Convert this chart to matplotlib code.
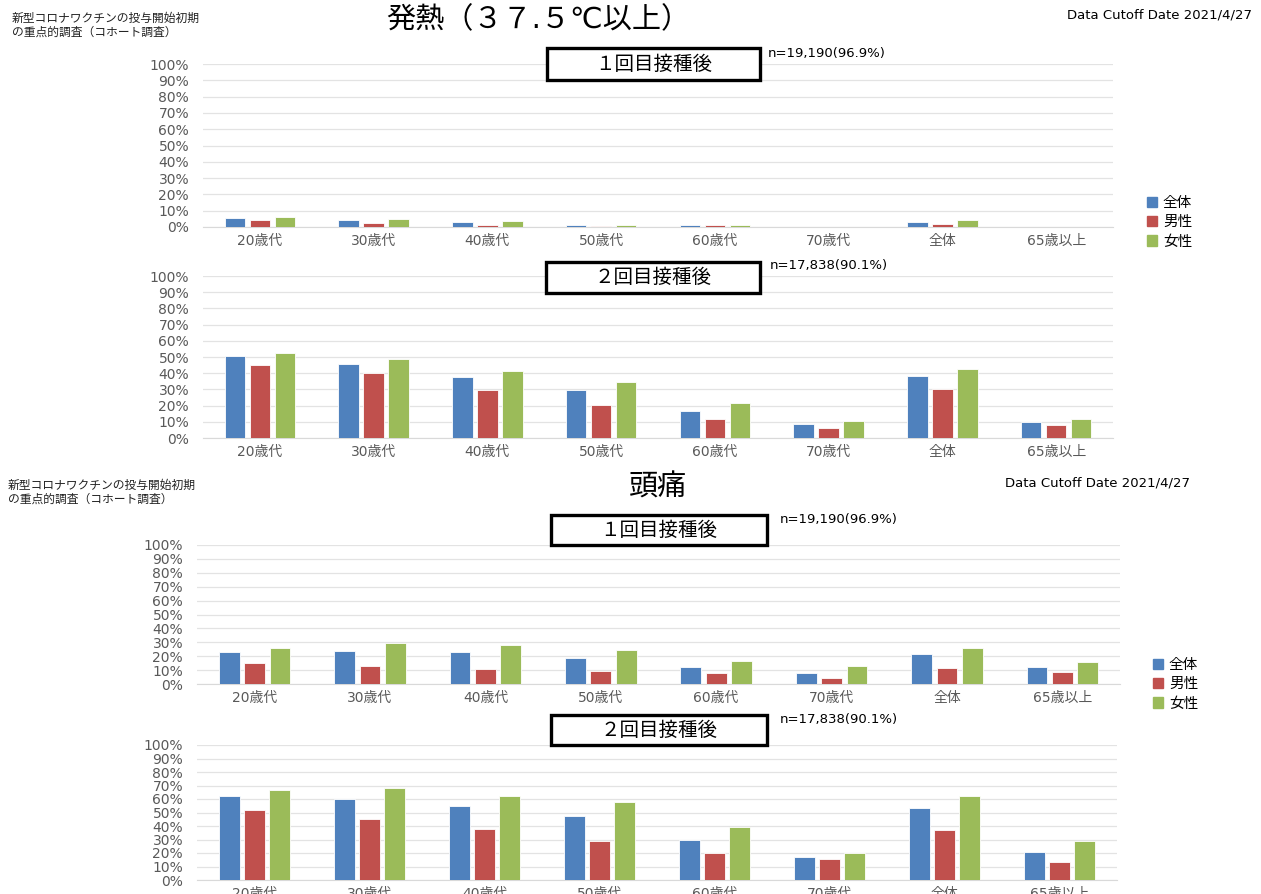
import numpy as np
import matplotlib.pyplot as plt
from matplotlib.patches import Patch, Rectangle

plt.rcParams['font.family'] = ['DejaVu Sans', 'Noto Sans CJK JP']

# categories and series
categories = ['20歳代', '30歳代', '40歳代', '50歳代', '60歳代', '70歳代', '全体', '65歳以上']
series_names = ['全体', '男性', '女性']
colors = ['#4F81BD', '#C0504D', '#9BBB59']

# 発熱 1回目 (%)
fever1_all = [5.5, 4.0, 3.0, 1.2, 1.0, 0.0, 3.3, 0.3]
fever1_male = [4.0, 2.5, 1.5, 0.8, 1.0, 0.0, 2.0, 0.3]
fever1_female = [6.0, 5.0, 3.5, 1.5, 1.0, 0.0, 4.0, 0.2]

# 発熱 2回目 (%)
fever2_all = [50.7, 45.4, 37.8, 29.4, 16.8, 8.4, 38.4, 9.7]
fever2_male = [45.2, 40.2, 29.4, 20.3, 11.9, 6.4, 30.2, 7.8]
fever2_female = [52.6, 48.5, 41.5, 34.5, 21.8, 10.7, 42.9, 11.7]

# 頭痛 1回目 (%)
head1_all = [23.2, 23.5, 23.0, 18.9, 12.3, 8.0, 21.3, 11.9]
head1_male = [14.8, 13.3, 11.1, 9.7, 8.2, 4.4, 11.6, 8.7]
head1_female = [26.2, 29.3, 28.1, 24.2, 16.5, 13.3, 26.2, 15.7]

# 頭痛 2回目 (%)
head2_all = [62.4, 59.7, 54.9, 47.3, 29.6, 17.0, 53.4, 20.4]
head2_male = [51.5, 45.1, 37.9, 28.9, 20.1, 15.3, 37.4, 13.6]
head2_female = [66.3, 68.2, 62.1, 57.8, 39.6, 19.7, 61.9, 28.6]

survey_text = '新型コロナワクチンの投与開始初期\nの重点的調査（コホート調査）'
cutoff_text = 'Data Cutoff Date 2021/4/27'
n_dose1 = 'n=19,190(96.9%)'
n_dose2 = 'n=17,838(90.1%)'

W, H = 1261, 894
fig = plt.figure(figsize=(W / 100, H / 100), dpi=100)
fig.patch.set_facecolor('white')


def px(x, y):
    return x / W, 1 - y / H


def draw_panel(rect, data):
    l, t, r, b = rect
    ax = fig.add_axes([l / W, 1 - b / H, (r - l) / W, (b - t) / H])
    x = np.arange(len(categories))
    for i, (vals, c) in enumerate(zip(data, colors)):
        ax.bar(x + (i - 1) * 0.22, vals, width=0.18, color=c,
               edgecolor='white', linewidth=0.6, zorder=3)
    ax.set_ylim(0, 100)
    ax.set_xlim(-0.5, len(categories) - 0.5)
    ax.set_yticks(range(0, 101, 10))
    ax.set_yticklabels([f'{v}%' for v in range(0, 101, 10)])
    ax.set_xticks(x)
    ax.set_xticklabels(categories)
    ax.tick_params(length=0, colors='#595959', labelsize=10)
    ax.tick_params(axis='y', pad=10)
    ax.tick_params(axis='x', pad=5)
    ax.grid(axis='y', color='#e3e3e3', linewidth=0.9, zorder=0)
    for s in ['left', 'right', 'top']:
        ax.spines[s].set_visible(False)
    ax.spines['bottom'].set_color('#d9d9d9')
    return ax


def box_label(x0, y0, x1, y1, text):
    fig.patches.append(Rectangle(px(x0, y1), (x1 - x0) / W, (y1 - y0) / H,
                                 transform=fig.transFigure, fc='white',
                                 ec='black', lw=2.4, zorder=5))
    fig.text(*px((x0 + x1) / 2, (y0 + y1) / 2), text, fontsize=14,
             ha='center', va='center', zorder=6)


def legend_at(x, y):
    handles = [Patch(color=c, label=n) for c, n in zip(colors, series_names)]
    fig.legend(handles=handles, loc='upper left', bbox_to_anchor=px(x, y),
               frameon=False, fontsize=10.5, handlelength=0.7, handleheight=0.7,
               handletextpad=0.4, labelspacing=0.3, borderaxespad=0)


# ---- 発熱 ----
fig.text(*px(12, 25), survey_text, fontsize=8.5, ha='left', va='center',
         linespacing=1.05, color='#222222')
fig.text(*px(538, 20), '発熱（３７.５℃以上）', fontsize=21, ha='center', va='center')
fig.text(*px(1252, 15), cutoff_text, fontsize=9.5, ha='right', va='center')

draw_panel((203, 64, 1113, 227), [fever1_all, fever1_male, fever1_female])
box_label(547, 48, 760, 80, '１回目接種後')
fig.text(*px(768, 53), n_dose1, fontsize=9.5, ha='left', va='center')
legend_at(1141, 189)

draw_panel((203, 276, 1113, 438), [fever2_all, fever2_male, fever2_female])
box_label(546, 262, 760, 293, '２回目接種後')
fig.text(*px(770, 266), n_dose2, fontsize=9.5, ha='left', va='center')

# ---- 頭痛 ----
fig.text(*px(8, 492), survey_text, fontsize=8.5, ha='left', va='center',
         linespacing=1.05, color='#222222')
fig.text(*px(658, 488), '頭痛', fontsize=21, ha='center', va='center')
fig.text(*px(1005, 483), cutoff_text, fontsize=9.5, ha='left', va='center')

draw_panel((197, 545, 1120, 684), [head1_all, head1_male, head1_female])
box_label(551, 515, 767, 545, '１回目接種後')
fig.text(*px(780, 520), n_dose1, fontsize=9.5, ha='left', va='center')
legend_at(1147, 651)

draw_panel((197, 745, 1117, 880), [head2_all, head2_male, head2_female])
box_label(551, 715, 767, 745, '２回目接種後')
fig.text(*px(780, 720), n_dose2, fontsize=9.5, ha='left', va='center')

fig.savefig('out.png', dpi=100)
